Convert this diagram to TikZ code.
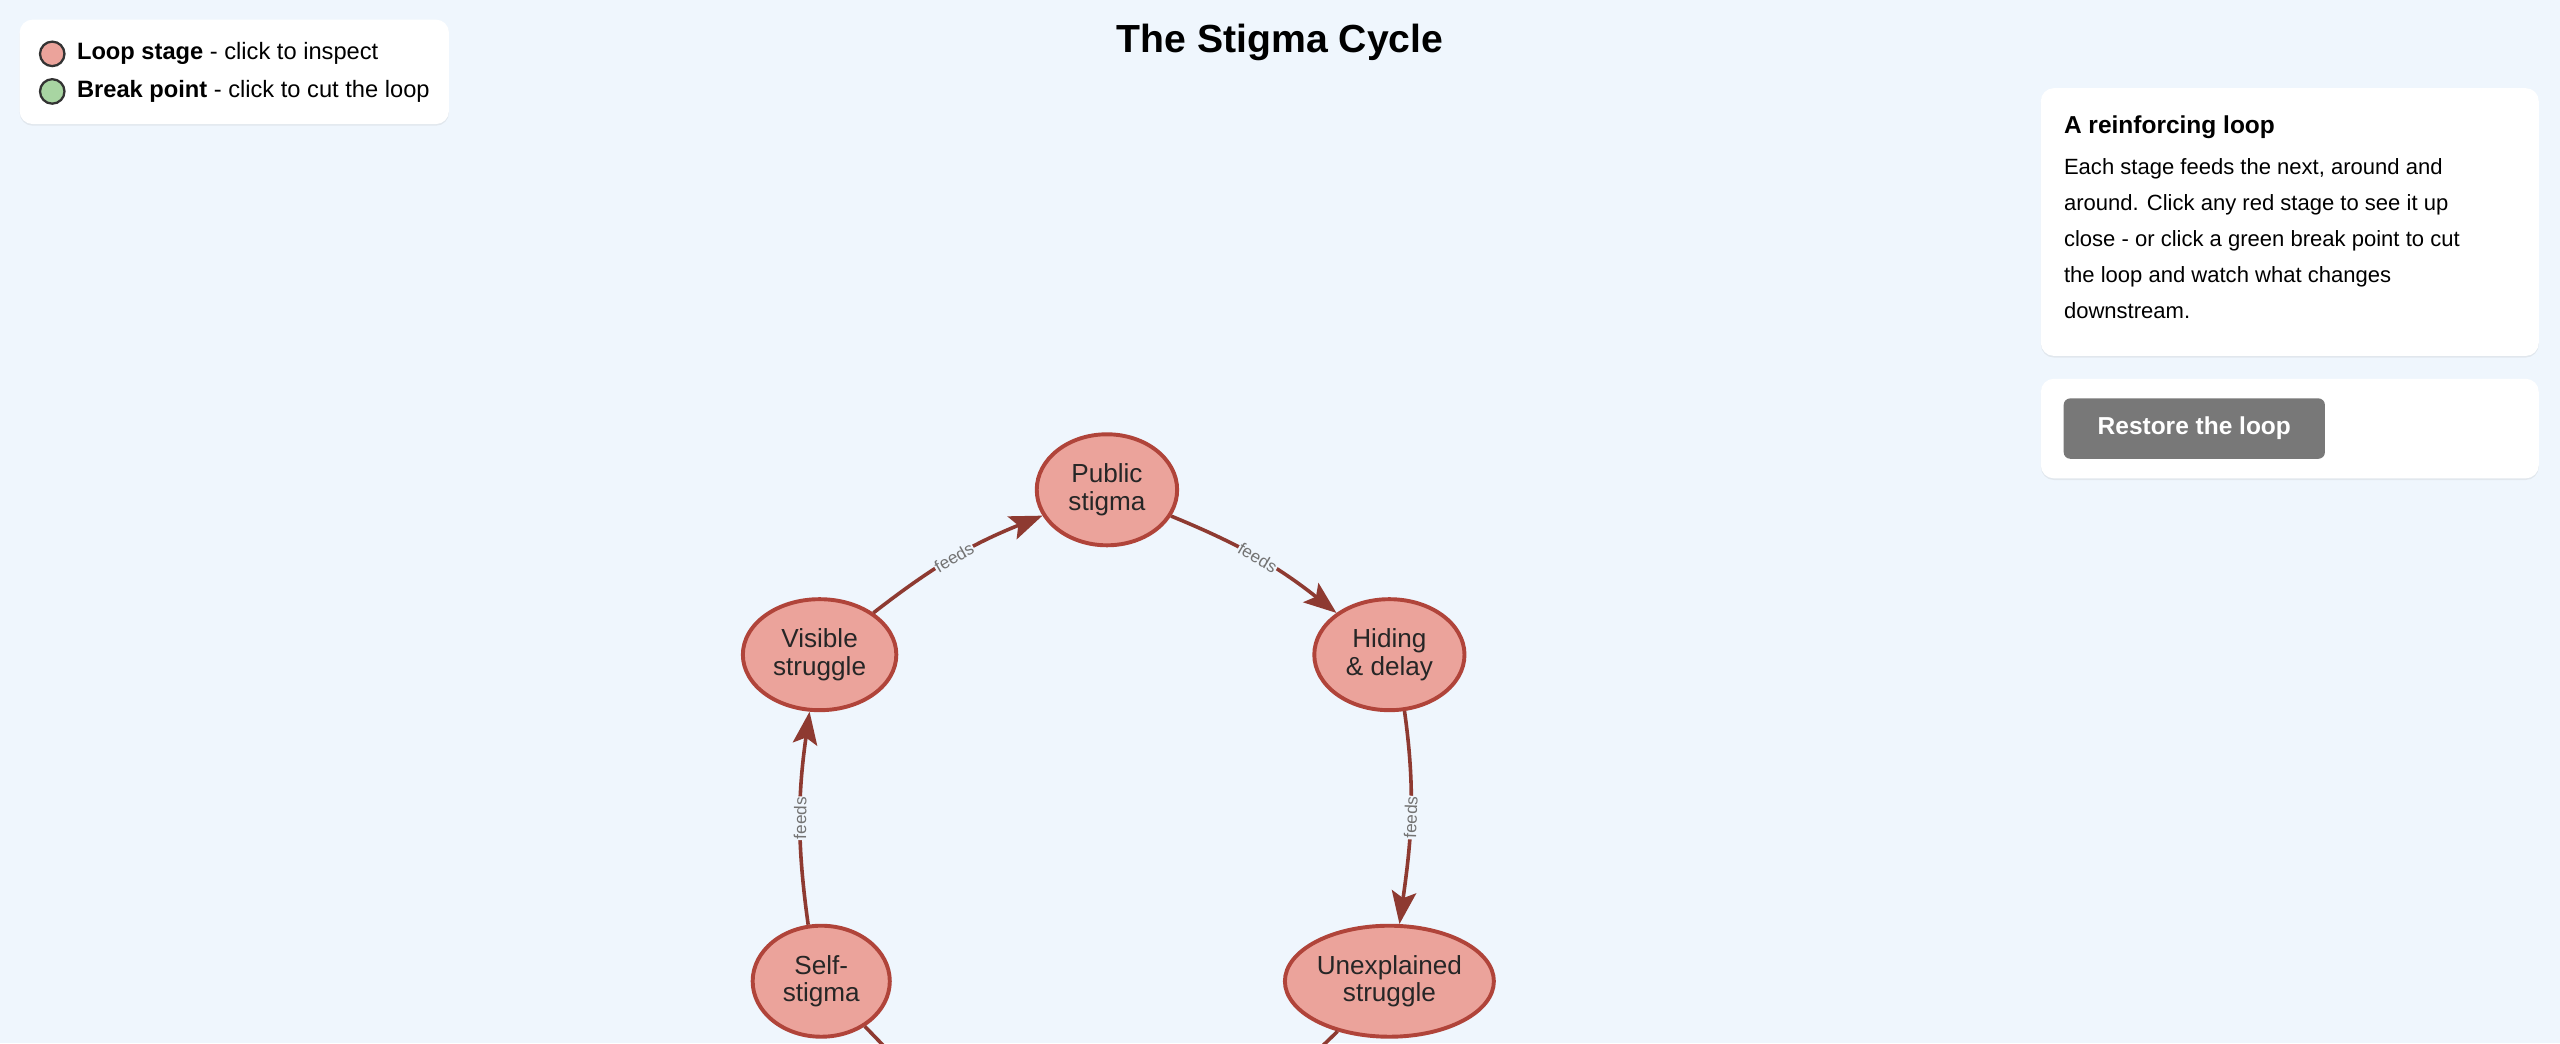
\documentclass[tikz,border=0pt]{standalone}
\usepackage{fontspec}
\setmainfont{Liberation Sans}
\usetikzlibrary{arrows.meta,shadows,shapes.geometric}
\definecolor{bgblue}{HTML}{EFF6FD}
\definecolor{stagefill}{HTML}{EBA39B}
\definecolor{stageline}{HTML}{B0443A}
\definecolor{arrowred}{HTML}{8E3A31}
\definecolor{breakfill}{HTML}{A8D5A2}
\tikzset{
  stage/.style={ellipse, draw=stageline, line width=2.4pt, fill=stagefill, align=center,
    font=\fontsize{16}{17}\selectfont, text=black!85, inner sep=0pt},
  feeds/.style={draw=arrowred, line width=2.2pt, -{Stealth[length=20pt,width=15pt,inset=4pt]}},
  lbl/.style={sloped, font=\fontsize{10.5}{11}\selectfont, text=black!55, fill=bgblue, inner sep=0.5pt},
  card/.style={fill=white, rounded corners=8pt, drop shadow={opacity=0.12, shadow xshift=0pt, shadow yshift=-1pt}},
}
\begin{document}
\begin{tikzpicture}[x=1pt,y=-1pt]
\useasboundingbox (0,0) rectangle (1568,639);
\fill[bgblue] (0,0) rectangle (1568,639);
\clip (0,0) rectangle (1568,639);

% legend
\path[card] (12,12) rectangle (275,76);
\node[circle, draw=black!80, line width=1.4pt, fill=stagefill, minimum size=15pt, inner sep=0pt] (keyloop) at (32,33) {};
\node[anchor=west, font=\fontsize{14.5}{15}\selectfont, inner sep=0pt] (keylooptxt) at (47,33) {\textbf{Loop stage} - click to inspect};
\node[circle, draw=black!80, line width=1.4pt, fill=breakfill, minimum size=15pt, inner sep=0pt] (keybreak) at (32,56) {};
\node[anchor=west, font=\fontsize{14.5}{15}\selectfont, inner sep=0pt] (keybreaktxt) at (47,56) {\textbf{Break point} - click to cut the loop};

% title
\node[font=\bfseries\fontsize{24}{26}\selectfont] (title) at (784,26) {The Stigma Cycle};

% side panels
\path[card] (1250,54) rectangle (1555,218);
\node[anchor=west, font=\bfseries\fontsize{15}{16}\selectfont, inner sep=0pt] (heading) at (1264,78) {A reinforcing loop};
\node[anchor=north west, align=left, font=\fontsize{13.5}{22}\selectfont, inner sep=0pt] (body) at (1264,97)
  {Each stage feeds the next, around and\\around. Click any red stage to see it up\\close - or click a green break point to cut\\the loop and watch what changes\\downstream.};
\path[card] (1250,232) rectangle (1555,293);
\node[fill=black!53, rounded corners=4pt, text=white, font=\bfseries\fontsize{15}{16}\selectfont,
  minimum width=160pt, minimum height=37pt] (restore) at (1344,262.5) {Restore the loop};

% loop stages
\node[stage, minimum width=86pt, minimum height=68pt] (public) at (678,300) {Public\\stigma};
\node[stage, minimum width=92pt, minimum height=68pt] (hiding) at (851,401) {Hiding\\\& delay};
\node[stage, minimum width=128pt, minimum height=68pt] (unexpl) at (851,601) {Unexplained\\struggle};
\node[stage, minimum width=84pt, minimum height=68pt] (self) at (503,601) {Self-\\stigma};
\node[stage, minimum width=94pt, minimum height=68pt] (visible) at (502,401) {Visible\\struggle};
\coordinate (offself) at (560,660);
\coordinate (offunexpl) at (790,660);

% connectors
\draw[feeds] (visible) to[bend left=8] node[lbl] {feeds} (public);
\draw[feeds] (public) to[bend left=8] node[lbl] {feeds} (hiding);
\draw[feeds] (hiding.-75) to[out=-82,in=82] node[lbl] {feeds} (unexpl.80);
\draw[feeds] (self.103) to[out=98,in=-98] node[lbl] {feeds} (visible.-100);
\draw[feeds, -] (offself) -- (self);
\draw[feeds, -] (unexpl) -- (offunexpl);
\end{tikzpicture}
\end{document}
